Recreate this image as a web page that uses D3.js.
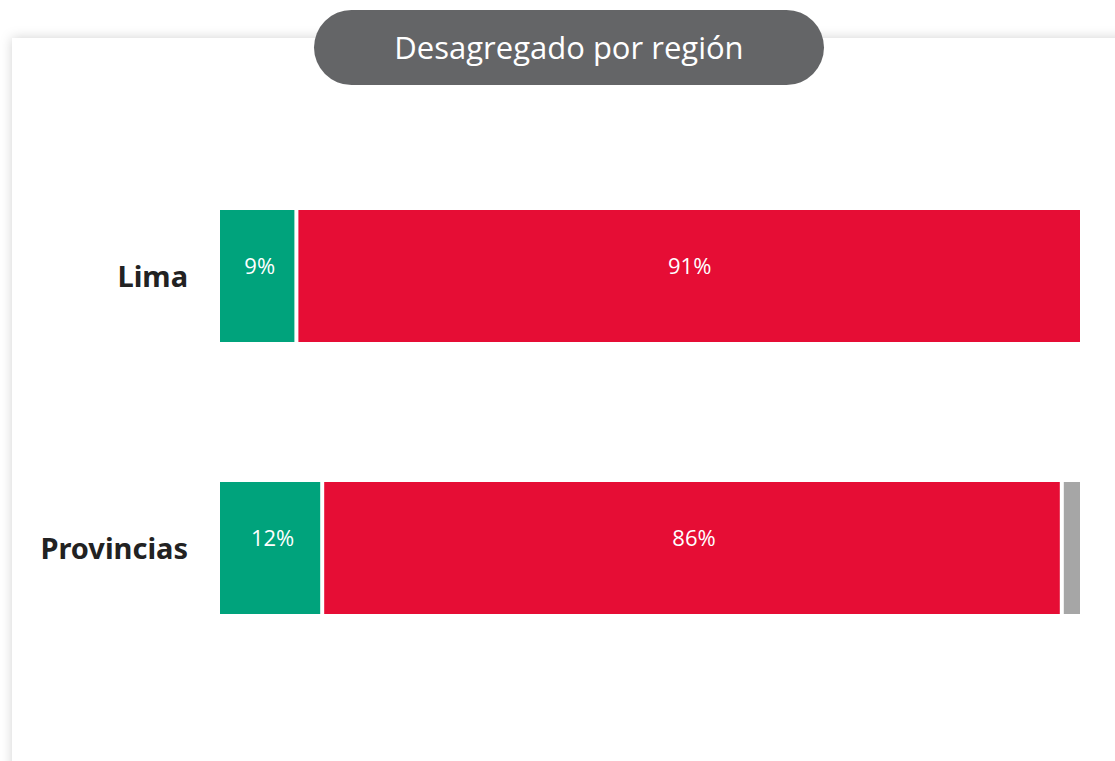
<!DOCTYPE html>
<html>
<head>
<meta charset="utf-8">
<script src="https://cdn.jsdelivr.net/npm/d3@7"></script>
<style>
  body { margin: 0; background: #fff; }
  svg { display: block; }
</style>
</head>
<body>
<svg width="1115" height="761"></svg>
<script>
let width = 1115, height = 761;

// data
const title = "Desagregado por región";
const regions = ["Lima", "Provincias"];
const seriesNames = ["A favor", "En contra", "No precisa"];
const seriesColors = ["#00a37c", "#e60d35", "#a6a6a6"];
const lima = [9, 91, 0];
const provincias = [12, 86, 2];
const values = [lima, provincias];

let svg = d3.select("svg");

// card shadow
let defs = svg.append("defs");
let filt = defs.append("filter").attr("id", "shadow")
    .attr("x", "-10%").attr("y", "-10%").attr("width", "120%").attr("height", "120%");
filt.append("feDropShadow")
    .attr("dx", 0).attr("dy", 0)
    .attr("stdDeviation", 6)
    .attr("flood-color", "#000")
    .attr("flood-opacity", 0.18);

svg.append("rect")
    .attr("x", 12).attr("y", 38)
    .attr("width", width + 40).attr("height", height + 40)
    .attr("fill", "#fff")
    .attr("filter", "url(#shadow)");

// title pill
svg.append("rect")
    .attr("x", 314).attr("y", 10)
    .attr("width", 510).attr("height", 75)
    .attr("rx", 37.5).attr("ry", 37.5)
    .attr("fill", "#646567");
svg.append("text")
    .attr("x", 569).attr("y", 59)
    .attr("text-anchor", "middle")
    .attr("fill", "#fff")
    .style("font-family", "'Open Sans', 'Noto Sans', sans-serif")
    .style("font-size", "31px")
    .text(title);

// scales
let x = d3.scaleLinear().domain([0, 100]).range([220, 1080]);
let y = d3.scaleBand().domain(regions).range([210, 614]).paddingInner(140 / 272).paddingOuter(0);

// stacked segments
let rows = regions.map((r, i) => {
    let cum = 0;
    let segs = values[i].map((v, j) => {
        let s = { region: r, key: seriesNames[j], color: seriesColors[j], v: v, x0: cum, x1: cum + v };
        cum += v;
        return s;
    }).filter(s => s.v > 0);
    segs.forEach((s, k) => { s.first = k === 0; s.last = k === segs.length - 1; });
    return segs;
});

let gap = 4;
let row = svg.append("g").selectAll("g")
    .data(rows)
    .enter()
    .append("g");

row.selectAll("rect")
    .data(d => d)
    .enter()
    .append("rect")
    .attr("x", d => x(d.x0) + (d.first ? 0 : 1))
    .attr("y", d => y(d.region))
    .attr("width", d => x(d.x1) - x(d.x0) - (d.first ? 0 : 1) - (d.last ? 0 : gap - 1))
    .attr("height", y.bandwidth())
    .attr("fill", d => d.color);

row.selectAll("text")
    .data(d => d.filter(s => s.v >= 5))
    .enter()
    .append("text")
    .attr("x", d => x((d.x0 + d.x1) / 2) + 1)
    .attr("y", d => y(d.region) + 64)
    .attr("text-anchor", "middle")
    .attr("fill", "#fff")
    .style("font-family", "'Open Sans', 'Noto Sans', sans-serif")
    .style("font-size", "22px")
    .text(d => d.v + "%");

// category labels
svg.append("g").selectAll("text")
    .data(regions)
    .enter()
    .append("text")
    .attr("x", 188)
    .attr("y", d => y(d) + y.bandwidth() / 2 + 11)
    .attr("text-anchor", "end")
    .attr("fill", "#222")
    .style("font-family", "'Noto Sans', sans-serif")
    .style("font-weight", "bold")
    .style("font-size", "29px")
    .text(d => d);
</script>
</body>
</html>
